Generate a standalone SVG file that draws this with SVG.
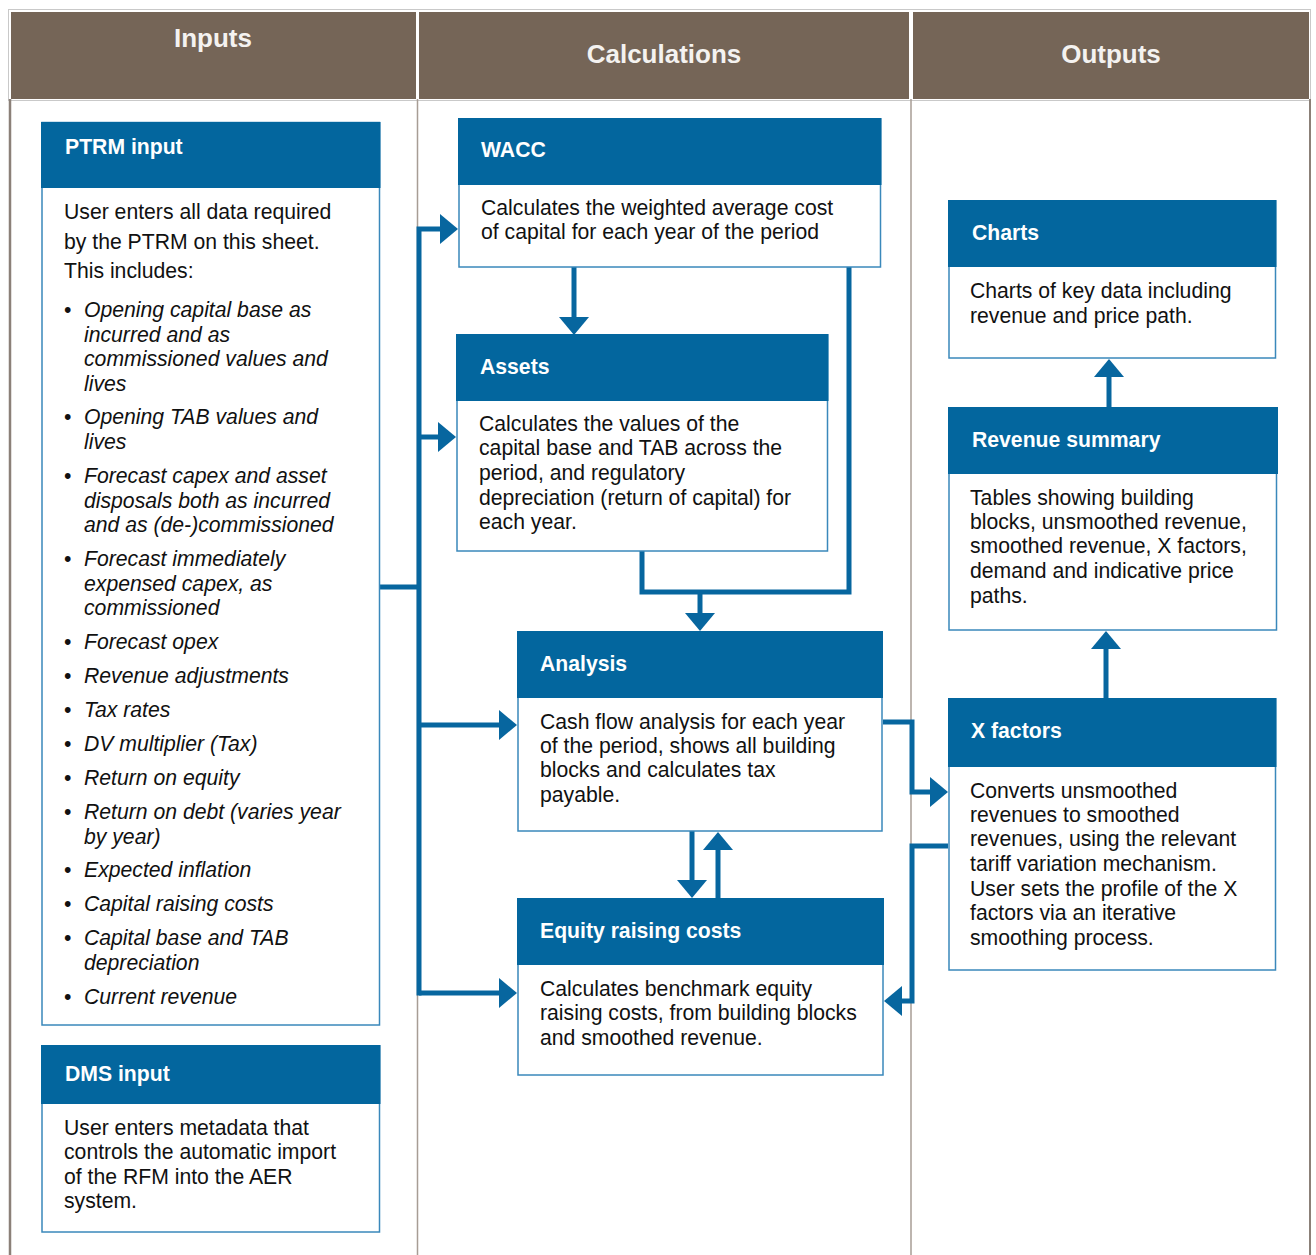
<svg xmlns="http://www.w3.org/2000/svg" width="1316" height="1255" viewBox="0 0 1316 1255">
<style>
.bg{fill:#ffffff}
.colh{fill:#756557}
.colt{font-family:"Liberation Sans",Arial,sans-serif;font-weight:bold;font-size:26px;fill:#f4f2f0;text-anchor:middle}
.vline{stroke:#a79d95;stroke-width:1.5;fill:none}
.hd{fill:#03669e}
.bd{fill:#ffffff;stroke:#3a88bb;stroke-width:1.5}
.tt{font-family:"Liberation Sans",Arial,sans-serif;font-weight:bold;font-size:21.2px;fill:#ffffff}
.tx{font-family:"Liberation Sans",Arial,sans-serif;font-size:21.2px;fill:#111111}
.it{font-style:italic}
.c{stroke:#07669f;stroke-width:5;fill:none;stroke-linejoin:miter}
.a{marker-end:url(#ah)}
</style>
<defs>
<marker id="ah" markerUnits="userSpaceOnUse" markerWidth="18" markerHeight="30" viewBox="0 0 18 30" refX="1" refY="15" orient="auto">
<path d="M0,0 L18,15 L0,30 Z" fill="#07669f"/>
</marker>
</defs>
<rect class="bg" x="0" y="0" width="1316" height="1255"/>

<g id="table">
<rect x="8.5" y="9.5" width="1302" height="91" fill="none" stroke="#c9c9c9" stroke-width="1"/>
<rect class="colh" x="11" y="12" width="405" height="87"/>
<rect class="colh" x="419" y="12" width="490" height="87"/>
<rect class="colh" x="913" y="12" width="396" height="87"/>
<text class="colt" x="213" y="47">Inputs</text>
<text class="colt" x="664" y="63">Calculations</text>
<text class="colt" x="1111" y="63">Outputs</text>
<line x1="10" y1="99" x2="10" y2="1255" stroke="#8b8078" stroke-width="2.5"/>
<line class="vline" x1="417.5" y1="99" x2="417.5" y2="1255"/>
<line class="vline" x1="911" y1="99" x2="911" y2="1255"/>
<line x1="1310" y1="99" x2="1310" y2="1255" stroke="#8b8078" stroke-width="2"/>
</g>

<g id="connectors">
<path class="c" d="M380,587 H419"/>
<path class="c a" d="M419,995.5 V229 H441"/>
<path class="c a" d="M419,437 H439"/>
<path class="c a" d="M419,725 H500"/>
<path class="c a" d="M419,993 H500"/>
<path class="c a" d="M574,267 V318"/>
<path class="c" d="M849,267 V592 H642 V551"/>
<path class="c a" d="M700,592 V614"/>
<path class="c a" d="M692,831 V881"/>
<path class="c a" d="M718,898 V849"/>
<path class="c a" d="M883,722 H912 V792 H931"/>
<path class="c a" d="M948,846 H912 V1001 H901"/>
<path class="c a" d="M1106,698 V648"/>
<path class="c a" d="M1109,407 V376"/>
</g>

<g id="ptrm">
<rect class="bd" x="42" y="122.5" width="337.5" height="902.5"/>
<rect class="hd" x="41" y="122" width="339.5" height="66"/>
<text class="tt" x="65" y="154">PTRM input</text>
<text class="tx" x="64" y="219">User enters all data required</text>
<text class="tx" x="64" y="249">by the PTRM on this sheet.</text>
<text class="tx" x="64" y="278">This includes:</text>
<g class="tx">
<text x="64" y="317">•</text><text class="it" x="84" y="317">Opening capital base as</text>
<text class="it" x="84" y="342">incurred and as</text>
<text class="it" x="84" y="366">commissioned values and</text>
<text class="it" x="84" y="391">lives</text>
<text x="64" y="424">•</text><text class="it" x="84" y="424">Opening TAB values and</text>
<text class="it" x="84" y="449">lives</text>
<text x="64" y="483">•</text><text class="it" x="84" y="483">Forecast capex and asset</text>
<text class="it" x="84" y="508">disposals both as incurred</text>
<text class="it" x="84" y="532">and as (de-)commissioned</text>
<text x="64" y="566">•</text><text class="it" x="84" y="566">Forecast immediately</text>
<text class="it" x="84" y="591">expensed capex, as</text>
<text class="it" x="84" y="615">commissioned</text>
<text x="64" y="649">•</text><text class="it" x="84" y="649">Forecast opex</text>
<text x="64" y="683">•</text><text class="it" x="84" y="683">Revenue adjustments</text>
<text x="64" y="717">•</text><text class="it" x="84" y="717">Tax rates</text>
<text x="64" y="751">•</text><text class="it" x="84" y="751">DV multiplier (Tax)</text>
<text x="64" y="785">•</text><text class="it" x="84" y="785">Return on equity</text>
<text x="64" y="819">•</text><text class="it" x="84" y="819">Return on debt (varies year</text>
<text class="it" x="84" y="844">by year)</text>
<text x="64" y="877">•</text><text class="it" x="84" y="877">Expected inflation</text>
<text x="64" y="911">•</text><text class="it" x="84" y="911">Capital raising costs</text>
<text x="64" y="945">•</text><text class="it" x="84" y="945">Capital base and TAB</text>
<text class="it" x="84" y="970">depreciation</text>
<text x="64" y="1004">•</text><text class="it" x="84" y="1004">Current revenue</text>
</g>
</g>

<g id="dms">
<rect class="bd" x="42" y="1046" width="337.5" height="186"/>
<rect class="hd" x="41" y="1045" width="339.5" height="59"/>
<text class="tt" x="65" y="1081">DMS input</text>
<text class="tx" x="64" y="1135">User enters metadata that</text>
<text class="tx" x="64" y="1159">controls the automatic import</text>
<text class="tx" x="64" y="1184">of the RFM into the AER</text>
<text class="tx" x="64" y="1208">system.</text>
</g>

<g id="wacc">
<rect class="bd" x="459" y="119" width="421.5" height="148"/>
<rect class="hd" x="458" y="118" width="423.5" height="67"/>
<text class="tt" x="481" y="157">WACC</text>
<text class="tx" x="481" y="215">Calculates the weighted average cost</text>
<text class="tx" x="481" y="239">of capital for each year of the period</text>
</g>

<g id="assets">
<rect class="bd" x="457" y="335" width="370.5" height="216"/>
<rect class="hd" x="456" y="334" width="372.5" height="67"/>
<text class="tt" x="480" y="374">Assets</text>
<text class="tx" x="479" y="431">Calculates the values of the</text>
<text class="tx" x="479" y="455">capital base and TAB across the</text>
<text class="tx" x="479" y="480">period, and regulatory</text>
<text class="tx" x="479" y="505">depreciation (return of capital) for</text>
<text class="tx" x="479" y="529">each year.</text>
</g>

<g id="analysis">
<rect class="bd" x="518" y="632" width="364" height="199"/>
<rect class="hd" x="517" y="631" width="366" height="67"/>
<text class="tt" x="540" y="671">Analysis</text>
<text class="tx" x="540" y="729">Cash flow analysis for each year</text>
<text class="tx" x="540" y="753">of the period, shows all building</text>
<text class="tx" x="540" y="777">blocks and calculates tax</text>
<text class="tx" x="540" y="802">payable.</text>
</g>

<g id="equity">
<rect class="bd" x="518" y="899" width="365" height="176"/>
<rect class="hd" x="517" y="898" width="367" height="67"/>
<text class="tt" x="540" y="938">Equity raising costs</text>
<text class="tx" x="540" y="996">Calculates benchmark equity</text>
<text class="tx" x="540" y="1020">raising costs, from building blocks</text>
<text class="tx" x="540" y="1045">and smoothed revenue.</text>
</g>

<g id="charts">
<rect class="bd" x="949" y="201" width="326.5" height="157"/>
<rect class="hd" x="948" y="200" width="328.5" height="67"/>
<text class="tt" x="972" y="240">Charts</text>
<text class="tx" x="970" y="298">Charts of key data including</text>
<text class="tx" x="970" y="323">revenue and price path.</text>
</g>

<g id="revenue">
<rect class="bd" x="949" y="408" width="327.5" height="222"/>
<rect class="hd" x="948" y="407" width="330" height="67"/>
<text class="tt" x="972" y="447">Revenue summary</text>
<text class="tx" x="970" y="505">Tables showing building</text>
<text class="tx" x="970" y="529">blocks, unsmoothed revenue,</text>
<text class="tx" x="970" y="553">smoothed revenue, X factors,</text>
<text class="tx" x="970" y="578">demand and indicative price</text>
<text class="tx" x="970" y="603">paths.</text>
</g>

<g id="xfactors">
<rect class="bd" x="949" y="699" width="326.5" height="271"/>
<rect class="hd" x="948" y="698" width="328.5" height="69"/>
<text class="tt" x="971" y="738">X factors</text>
<text class="tx" x="970" y="798">Converts unsmoothed</text>
<text class="tx" x="970" y="822">revenues to smoothed</text>
<text class="tx" x="970" y="846">revenues, using the relevant</text>
<text class="tx" x="970" y="871">tariff variation mechanism.</text>
<text class="tx" x="970" y="896">User sets the profile of the X</text>
<text class="tx" x="970" y="920">factors via an iterative</text>
<text class="tx" x="970" y="945">smoothing process.</text>
</g>
</svg>
